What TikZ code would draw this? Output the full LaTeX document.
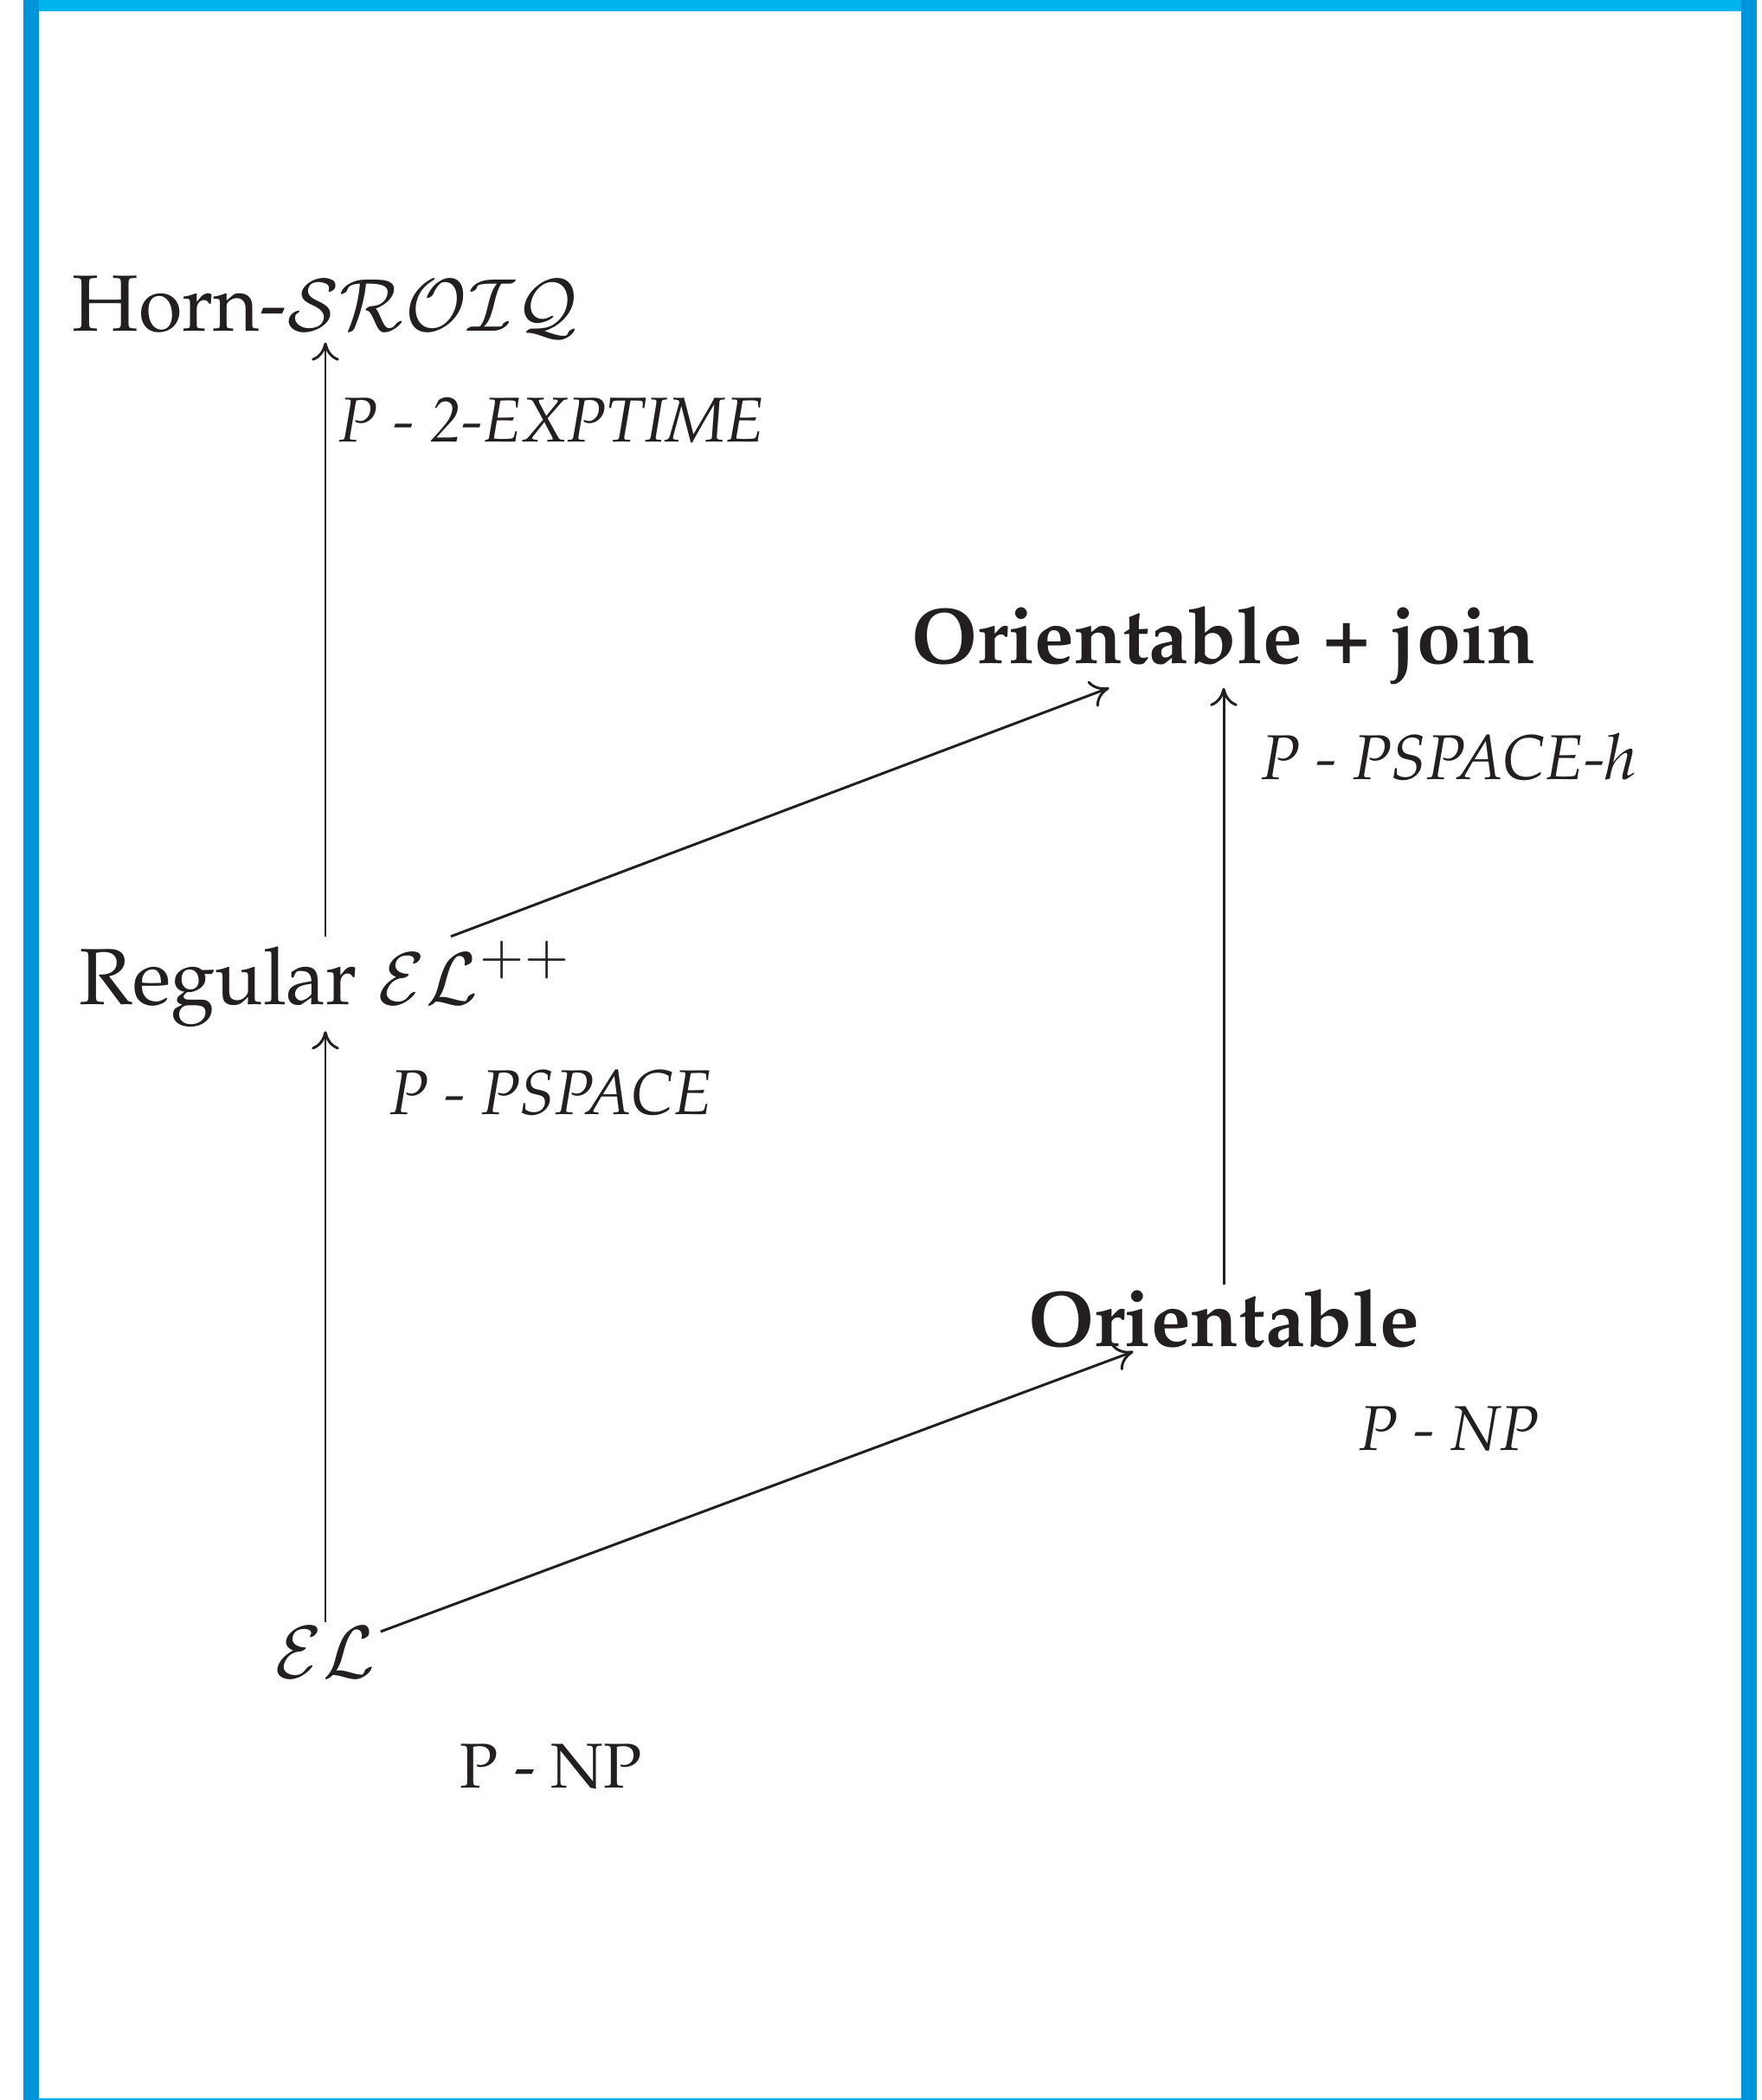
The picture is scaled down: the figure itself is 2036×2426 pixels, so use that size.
\documentclass[tikz,border=0pt]{standalone}
\usepackage[T1]{fontenc}
\usepackage{mathpazo}
\usepackage{tikz}
\usetikzlibrary{arrows.meta,positioning}
\usepackage{xcolor}
\definecolor{ink}{HTML}{231F20}
\definecolor{topbar}{HTML}{00B4EE}
\definecolor{sidebar}{HTML}{0094DA}
\tikzset{
  >={To[length=6pt,width=9pt]},
  logic/.style={font=\fontsize{26.2}{32}\selectfont,text=ink,inner sep=1.3pt,anchor=base},
  boldlogic/.style={logic,font=\fontsize{26}{32}\selectfont\bfseries},
  cplx/.style={font=\fontsize{20.8}{25}\selectfont\itshape,text=ink,inner sep=0pt,anchor=base west},
  cplxup/.style={cplx,font=\fontsize{20.8}{25}\selectfont\upshape},
  arrow/.style={->,draw=ink,line width=0.85pt},
}
\newcommand{\dlname}[1]{{\fontsize{23.6}{28}\selectfont$#1$}}

\begin{document}
\begin{tikzpicture}[x=0.01cm,y=-0.01cm]
\useasboundingbox (0,0) rectangle (2036,2426);

% frame
\fill[sidebar] (27,0) rectangle (45,2426);
\fill[sidebar] (2012,0) rectangle (2030,2426);
\fill[topbar] (45,0) rectangle (2012,13);
\fill[topbar] (45,2424) rectangle (2012,2426);

% logics
\node[logic] (horn) at (376,382) {Horn-\dlname{\mathcal{SROIQ}}};
\node[logic] (regular) at (376,1160) {Regular \dlname{\mathcal{EL}^{++}}};
\node[logic] (el) at (376,1938) {\dlname{\mathcal{EL}}};
\node[boldlogic] (ojoin) at (1414,766) {Orientable + join};
\node[boldlogic] (orient) at (1414,1555) {Orientable};

% complexities
\node[cplx] (c2exp) at (391,510) {P - 2-EXPTIME};
\node[cplx] (cpsph) at (1457,900) {P - PSPACE-h};
\node[cplx] (cpsp) at (450,1287) {P - PSPACE};
\node[cplx] (cnpo) at (1570,1675) {P - NP};
\node[cplxup] (cnpel) at (531,2065) {P - NP};

% arrows
\draw[arrow] (regular) -- (horn);
\draw[arrow] (el) -- (regular);
\draw[arrow] (regular) -- (ojoin);
\draw[arrow] (orient) -- (ojoin);
\draw[arrow] (el) -- (orient);

\end{tikzpicture}
\end{document}
